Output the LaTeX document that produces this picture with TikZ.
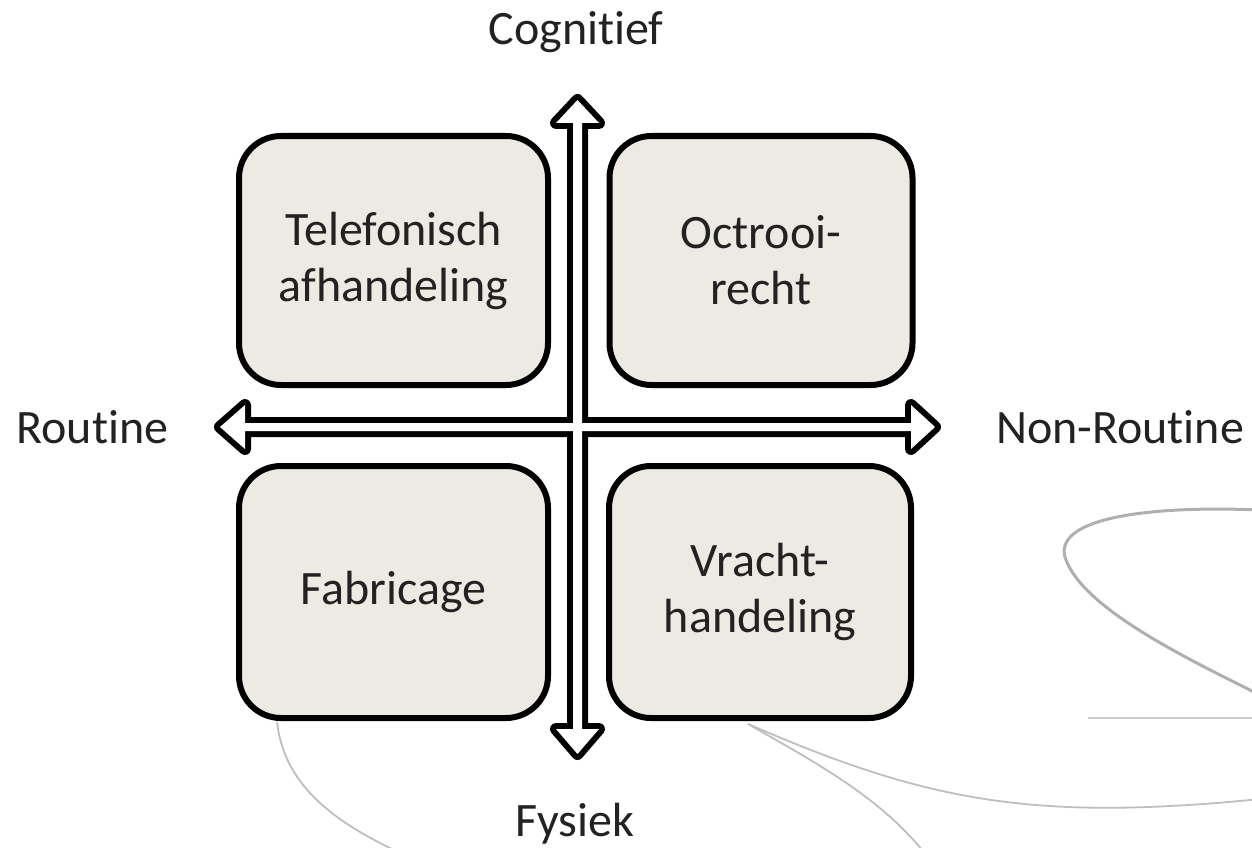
\documentclass[tikz,border=0pt]{standalone}
\usepackage{fontspec}
\setmainfont{Carlito}[Ligatures={NoCommon,NoContextual}]
\definecolor{boxfill}{RGB}{236,234,226}
\definecolor{txt}{RGB}{34,34,34}
\definecolor{decogrey}{RGB}{190,190,190}
\begin{document}
\begin{tikzpicture}[x=1pt,y=-1pt,
  quad/.style={draw=black, line width=6pt, fill=boxfill, rounded corners=42pt,
    rectangle, inner sep=0pt, align=center, text=txt,
    font=\fontsize{48}{56}\selectfont},
  lbl/.style={font=\fontsize{48}{56}\selectfont, text=txt, inner sep=0pt, anchor=base},
  deco/.style={draw=decogrey, line width=1.8pt},
  arrowstroke/.style={draw=black, line width=12pt, line join=round},
  arrowfill/.style={fill=white}]
\useasboundingbox (0,0) rectangle (1252,848);

% decorative grey swooshes
\begin{scope}
\clip (0,0) rectangle (1252,848);
\draw[deco] (277,722) .. controls (285,790) and (340,830) .. (440,870);
\draw[deco] (748,724) .. controls (900,790) and (1000,815) .. (1170,806) .. controls (1210,804) and (1240,801) .. (1260,799);
\draw[deco] (748,724) .. controls (820,765) and (885,800) .. (930,860);
\draw[deco, line width=3pt, draw={rgb,255:red,175;green,175;blue,175}] (1260,510) .. controls (1140,505) and (1050,520) .. (1066,560) .. controls (1085,610) and (1190,660) .. (1260,695);
\draw[deco, line width=1.6pt, draw={rgb,255:red,205;green,205;blue,205}] (1088,718) -- (1260,718);
\end{scope}

% boxes
\node[quad, minimum width=309pt, minimum height=249pt] (tl) at (393.5,260.5) {Telefonisch\\afhandeling};
\node[quad, minimum width=303pt, minimum height=249pt] (tr) at (761,260.5) {Octrooi-\\recht};
\node[quad, minimum width=309pt, minimum height=252pt] (bl) at (393.5,592) {Fabricage};
\node[quad, minimum width=302pt, minimum height=252pt] (br) at (760,592) {Vracht-\\handeling};

% double-headed axis arrows (merged outline)
\path[arrowstroke] (573,123) -- (556,123) -- (577.5,100) -- (599,123) -- (582,123) -- (582,729) -- (599,729) -- (577.5,754) -- (556,729) -- (573,729) -- cycle;
\path[arrowstroke] (245,423) -- (245,405) -- (220,427) -- (245,449) -- (245,431) -- (911,431) -- (911,449) -- (935,427) -- (911,405) -- (911,423) -- cycle;
\path[arrowfill] (573,123) -- (556,123) -- (577.5,100) -- (599,123) -- (582,123) -- (582,729) -- (599,729) -- (577.5,754) -- (556,729) -- (573,729) -- cycle;
\path[arrowfill] (245,423) -- (245,405) -- (220,427) -- (245,449) -- (245,431) -- (911,431) -- (911,449) -- (935,427) -- (911,405) -- (911,423) -- cycle;

% axis labels
\node[lbl] (cog) at (576,45) {Cognitief};
\node[lbl] (fys) at (575,836) {Fysiek};
\node[lbl] (rout) at (92.5,443) {Routine};
\node[lbl] (nonr) at (1120,443) {Non-Routine};
\end{tikzpicture}
\end{document}
